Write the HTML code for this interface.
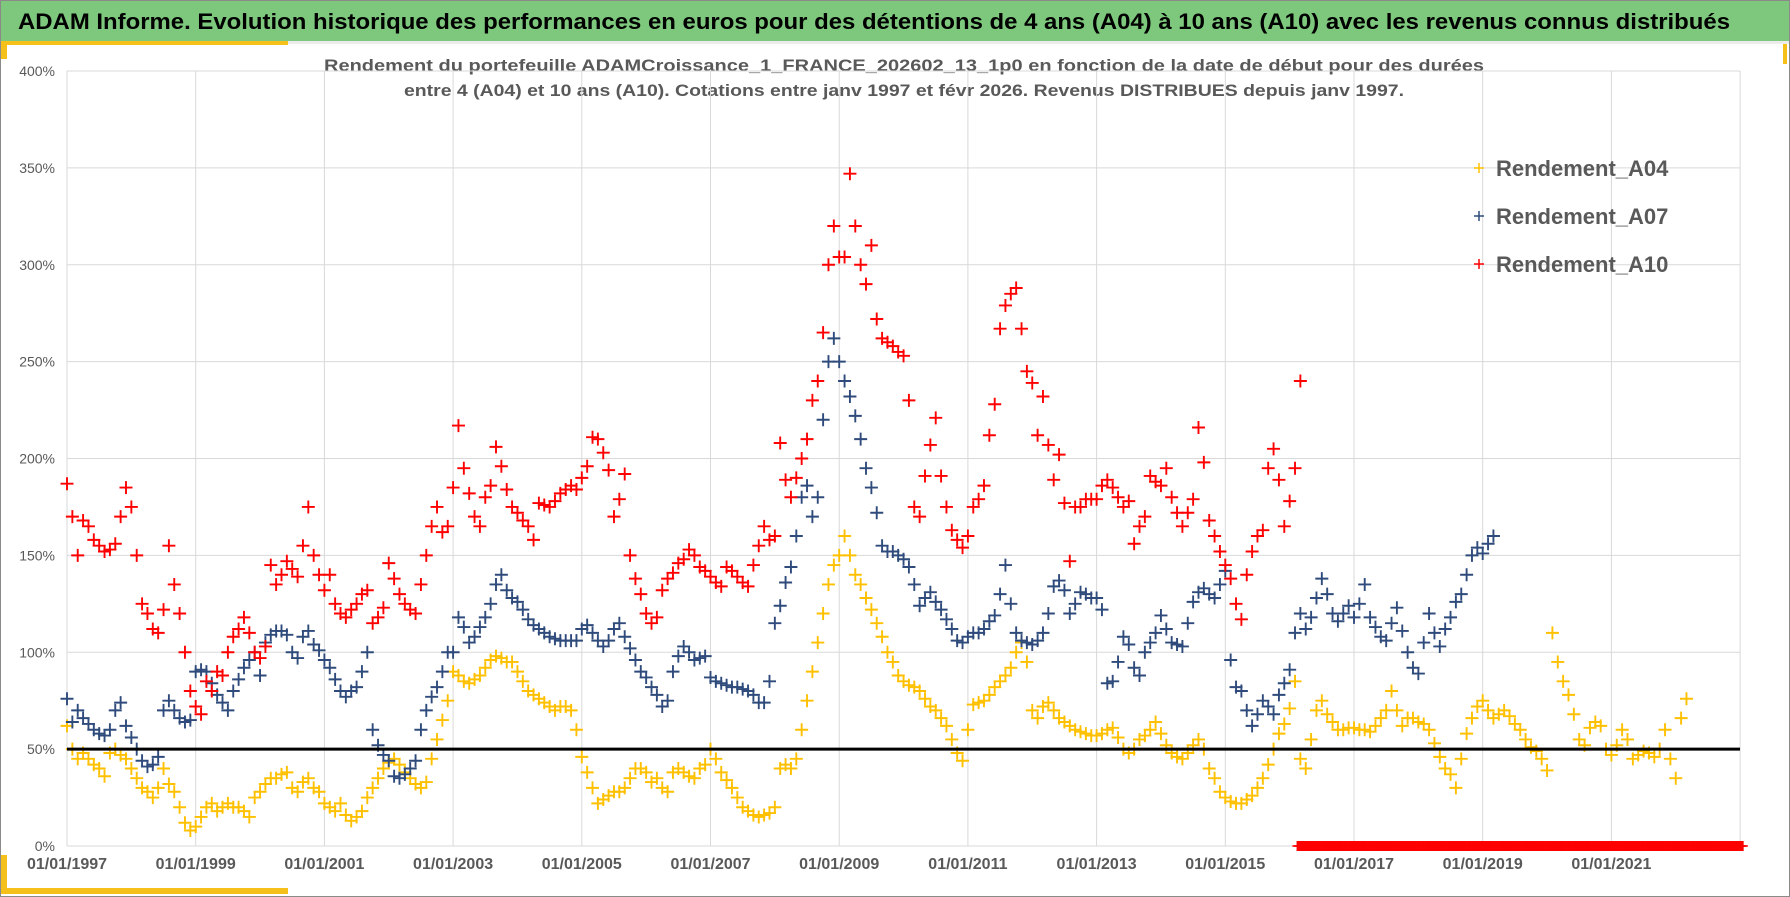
<!DOCTYPE html>
<html><head><meta charset="utf-8">
<style>
html,body{margin:0;padding:0;background:#fff;}
body{width:1790px;height:897px;overflow:hidden;font-family:"Liberation Sans",Arial,sans-serif;}
svg{display:block;}
</style></head>
<body>
<svg id="chart" width="1790" height="897" viewBox="0 0 1790 897" xmlns="http://www.w3.org/2000/svg">
  <rect x="0.5" y="0.5" width="1789" height="896" fill="#fff" stroke="#8a8a8a"/>
  <rect x="1" y="1" width="1788" height="40" fill="#7dc87d"/>
  <rect x="1" y="41" width="1788" height="3" fill="#ececec"/>
  <rect x="1" y="41" width="287" height="4" fill="#f5c01a"/>
  <rect x="1" y="41" width="6" height="18" fill="#f5c01a"/>
  <rect x="1783" y="44" width="4" height="20" fill="#f5c01a"/>
  <rect x="1" y="888" width="287" height="6" fill="#f5c01a"/>
  <rect x="1" y="855" width="6" height="39" fill="#f5c01a"/>
  <text x="18" y="29" font-size="22" font-weight="bold" fill="#000" textLength="1712" lengthAdjust="spacingAndGlyphs">ADAM Informe. Evolution historique des performances en euros pour des détentions de 4 ans (A04) à 10 ans (A10) avec les revenus connus distribués</text>
  <text x="904" y="71" font-size="17" font-weight="bold" fill="#595959" text-anchor="middle" textLength="1160" lengthAdjust="spacingAndGlyphs">Rendement du portefeuille ADAMCroissance_1_FRANCE_202602_13_1p0  en fonction de la date de début pour des durées</text>
  <text x="904" y="96" font-size="17" font-weight="bold" fill="#595959" text-anchor="middle" textLength="1000" lengthAdjust="spacingAndGlyphs">entre 4 (A04) et 10 ans (A10). Cotations entre janv 1997 et févr 2026. Revenus DISTRIBUES depuis janv 1997.</text>
  <g id="grid"></g>
  <g id="marks"></g>
  <g id="legend"></g>
</svg>
<script>
// ---- data (monthly values in %, starting Jan 1997) ----
const startYear = 1997;
const yTicks = [0, 50, 100, 150, 200, 250, 300, 350, 400];
const xTickYears = [1997, 1999, 2001, 2003, 2005, 2007, 2009, 2011, 2013, 2015, 2017, 2019, 2021];
const xTickLabels = ["01/01/1997","01/01/1999","01/01/2001","01/01/2003","01/01/2005","01/01/2007","01/01/2009","01/01/2011","01/01/2013","01/01/2015","01/01/2017","01/01/2019","01/01/2021"];
const seriesNames = ["Rendement_A04", "Rendement_A07", "Rendement_A10"];
const referenceLevel = 50;
const a04 = [
62,50,45,48,45,42,40,36,48,50,47,45,
40,35,30,28,25,30,40,32,28,20,12,8,
10,15,20,22,18,20,22,20,20,18,15,25,
28,32,35,35,37,38,30,28,33,35,30,28,
22,20,18,22,16,13,15,18,25,30,35,40,
43,45,42,38,35,32,30,33,45,55,65,75,
90,88,85,84,86,88,92,96,98,97,95,95,
90,85,80,78,76,74,72,70,72,72,70,60,
46,38,30,22,24,26,28,28,30,35,40,40,
38,33,35,30,28,38,40,38,36,35,40,42,
50,45,38,34,30,25,20,18,16,15,16,17,
20,40,42,40,45,60,75,90,105,120,135,145,
150,160,150,140,135,128,122,115,108,100,95,88,
85,83,82,80,76,72,70,66,62,55,48,44,
60,73,74,75,78,82,85,88,92,100,105,95,
70,66,72,74,70,66,64,62,60,59,58,57,
57,58,60,61,56,50,48,50,55,57,60,64,
58,52,48,46,45,48,52,55,50,40,35,28,
25,23,22,22,24,26,30,35,42,50,58,63,
71,85,45,40,55,70,75,68,64,60,60,61,
61,60,60,59,62,66,70,80,70,62,66,66,
64,63,60,53,46,40,37,30,45,58,66,72,
75,70,66,68,70,67,63,60,55,51,49,45,
39,110,95,85,78,68,55,52,61,64,62,50,
47,52,60,55,45,47,49,48,46,50,60,45,
35,66,76];
const a07 = [
76,64,70,66,63,60,58,57,60,70,74,62,
56,50,44,41,42,46,70,75,70,66,64,65,
90,91,90,84,78,74,70,80,86,92,96,100,
88,105,109,111,111,109,100,97,108,111,104,101,
96,92,86,80,77,80,82,90,100,60,52,47,
44,36,35,37,40,44,60,70,77,82,90,100,
100,118,113,105,108,113,118,125,135,140,132,128,
126,122,117,114,112,110,108,107,106,106,106,106,
112,114,110,106,103,106,112,115,108,102,96,90,
87,82,78,72,75,90,98,103,100,96,97,98,
87,85,84,83,82,82,81,80,78,74,74,85,
115,124,136,144,160,180,186,170,180,220,250,262,
250,240,232,222,210,195,185,172,155,152,152,150,
148,144,135,124,128,131,126,122,117,112,106,105,
108,110,110,112,116,119,130,145,125,110,106,105,
104,106,110,120,134,137,132,120,125,131,130,128,
128,122,84,85,95,108,104,92,88,100,105,110,
119,112,105,104,103,115,126,131,133,130,128,135,
142,96,82,80,70,62,68,75,72,68,78,84,
91,110,120,112,118,128,138,130,120,116,120,124,
118,125,135,118,113,108,106,115,123,111,100,92,
89,105,120,110,103,112,118,126,130,140,150,154,
151,156,160];
const a10 = [
187,170,150,168,165,158,155,152,153,156,170,185,
175,150,125,120,112,110,122,155,135,120,100,80,
72,68,85,80,90,88,100,108,112,118,110,100,
97,103,145,135,140,147,143,139,155,175,150,140,
132,140,125,120,118,122,125,130,132,115,118,123,
146,138,130,125,122,120,135,150,165,175,162,165,
185,217,195,182,170,165,180,186,206,196,184,175,
172,168,165,158,177,176,175,178,182,184,186,184,
190,196,211,210,203,194,170,179,192,150,138,130,
120,115,118,132,138,141,146,148,153,150,144,142,
139,136,134,144,142,139,136,134,145,155,165,158,
160,208,189,180,190,200,210,230,240,265,300,320,
304,304,347,320,300,290,310,272,262,260,258,255,
253,230,175,170,191,207,221,191,175,163,158,154,
160,175,179,186,212,228,267,279,285,288,267,245,
239,212,232,207,189,202,177,147,175,175,179,179,
179,186,189,185,180,175,178,156,165,170,191,188,
186,195,180,172,165,172,179,216,198,168,160,152,
145,138,125,117,140,152,160,163,195,205,189,165,
178,195,240];
// A10 reported as 0% after its data ends (from early 2016 to early 2023)
const a10ZeroStart = 2016.12;
const a10ZeroEnd = 2023.05;
const a10ZeroValue = 0;

// ---- axes ----
const X0 = 67, PX_PER_YEAR = 64.35, Y0 = 846, Y400 = 71, XR = 1740;
const xScale = yr => X0 + (yr - startYear) * PX_PER_YEAR;
const yScale = v => Y0 - v / 400 * (Y0 - Y400);
const NS = "http://www.w3.org/2000/svg";
function mk(tag, attrs, parent) {
  const e = document.createElementNS(NS, tag);
  for (const k in attrs) e.setAttribute(k, attrs[k]);
  parent.appendChild(e);
  return e;
}
const grid = document.getElementById('grid');
const marks = document.getElementById('marks');
const legend = document.getElementById('legend');

yTicks.forEach(v => {
  const y = yScale(v);
  const l = mk('line', {x1: X0, x2: XR, y1: y, y2: y, stroke: '#d9d9d9', 'stroke-width': 1}, grid);
  
  
  const t = mk('text', {x: 55, y: y + 5, 'font-size': 14, fill: '#595959', 'text-anchor': 'end'}, grid);
  t.textContent = v + '%';
  
  
});
xTickYears.concat([2023]).forEach((yr, i) => {
  const x = xScale(yr);
  const l = mk('line', {x1: x, x2: x, y1: Y400, y2: Y0, stroke: '#d9d9d9', 'stroke-width': 1}, grid);
  
  
  if (i < xTickLabels.length) {
    const t = mk('text', {x: x, y: 869, 'font-size': 16, 'font-weight': 'bold', fill: '#595959', 'text-anchor': 'middle'}, grid);
    t.textContent = xTickLabels[i];
    
    
  }
});

function plus(x, y, color, name, size, sw) {
  const p = mk('path', {d: `M${x - size} ${y}h${2 * size}M${x} ${y - size}v${2 * size}`, stroke: color, 'stroke-width': sw, fill: 'none'}, marks);
  
  
}
function drawSeries(arr, color, name) {
  arr.forEach((v, i) => {
    plus(xScale(startYear + i / 12), yScale(v), color, name, 6.5, 1.9);
  });
}
drawSeries(a04, '#ffc000', 'point-a04');
drawSeries(a07, '#2f4b7c', 'point-a07');
drawSeries(a10, '#ff0000', 'point-a10');
for (let yr = a10ZeroStart; yr <= a10ZeroEnd; yr += 1 / 52) {
  plus(xScale(yr), yScale(a10ZeroValue), '#ff0000', 'point-a10-zero', 5, 1.6);
}
// 50% reference line
const ref = mk('line', {x1: X0, x2: XR, y1: yScale(referenceLevel), y2: yScale(referenceLevel), stroke: '#000', 'stroke-width': 3}, marks.parentNode);



// legend
const legendColors = ['#ffc000', '#2f4b7c', '#ff0000'];
seriesNames.forEach((n, i) => {
  const y = 168 + i * 48;
  const g = mk('g', {}, legend);
  
  
  mk('path', {d: `M1474 ${y}h10M1479 ${y - 5}v10`, stroke: legendColors[i], 'stroke-width': 1.5}, g);
  const t = mk('text', {x: 1496, y: y + 8, 'font-size': 22, 'font-weight': 'bold', fill: '#595959'}, g);
  t.textContent = n;
});
</script>
</body></html>
